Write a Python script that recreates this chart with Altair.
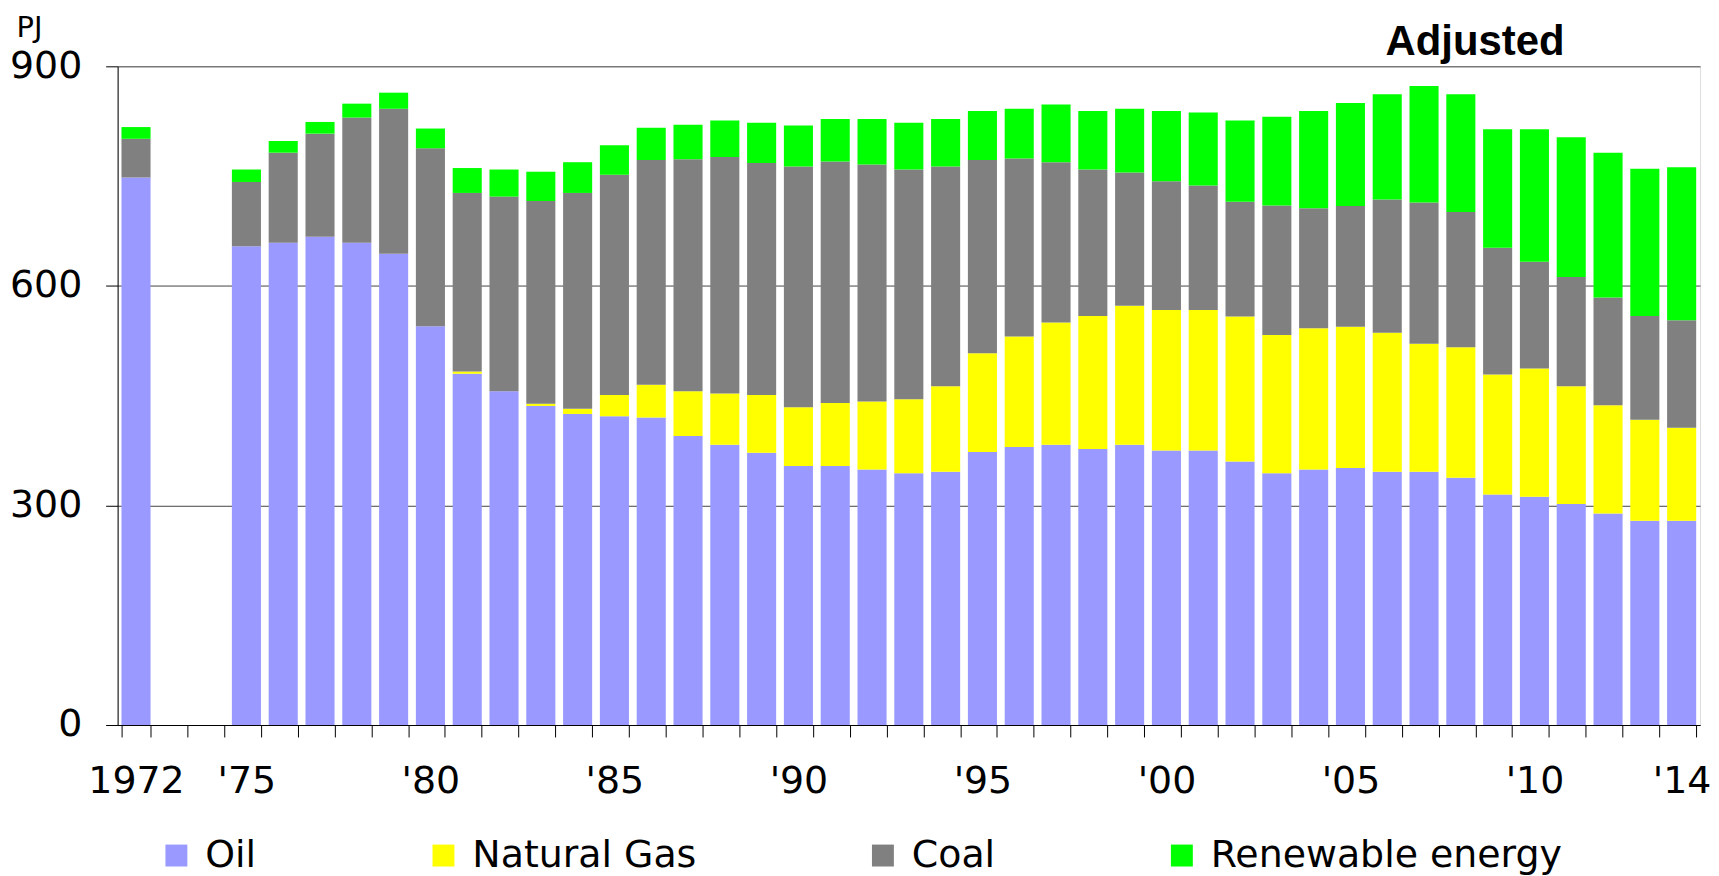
import altair as alt
import pandas as pd

# ---- data (PJ) ----
YEARS = [1972, 1975, 1976, 1977, 1978, 1979, 1980, 1981, 1982, 1983, 1984,
         1985, 1986, 1987, 1988, 1989, 1990, 1991, 1992, 1993, 1994, 1995,
         1996, 1997, 1998, 1999, 2000, 2001, 2002, 2003, 2004, 2005, 2006,
         2007, 2008, 2009, 2010, 2011, 2012, 2013, 2014]

OIL = [748, 654, 659, 667, 659, 644, 545, 480, 456, 436, 425,
       422, 420, 395, 383, 372, 354, 354, 349, 344, 346, 373,
       380, 383, 377, 383, 375, 375, 360, 344, 349, 351, 346,
       346, 338, 315, 312, 302, 289, 279, 279]

GAS = [0, 0, 0, 0, 0, 0, 0, 3, 0, 3, 7,
       29, 45, 61, 70, 79, 80, 86, 93, 101, 117, 135,
       151, 167, 182, 190, 192, 192, 198, 189, 193, 193, 190,
       175, 178, 164, 175, 161, 148, 138, 127]

COAL = [53, 88, 123, 141, 171, 198, 243, 244, 266, 277, 295,
        301, 307, 317, 323, 317, 329, 330, 324, 314, 300, 264,
        243, 219, 200, 182, 176, 170, 157, 177, 164, 165, 182,
        193, 185, 173, 146, 149, 147, 142, 147]

RENEW = [16, 17, 16, 16, 19, 22, 27, 34, 37, 40, 42,
         40, 44, 47, 50, 55, 56, 58, 62, 64, 65, 67,
         68, 79, 80, 87, 96, 100, 111, 121, 133, 141, 144,
         159, 161, 162, 181, 191, 198, 201, 209]

# every category slot on the axis (1973 and 1974 have no data)
AXIS_YEARS = [1972, 1973, 1974, 1975, 1976, 1977, 1978, 1979, 1980, 1981,
              1982, 1983, 1984, 1985, 1986, 1987, 1988, 1989, 1990, 1991,
              1992, 1993, 1994, 1995, 1996, 1997, 1998, 1999, 2000, 2001,
              2002, 2003, 2004, 2005, 2006, 2007, 2008, 2009, 2010, 2011,
              2012, 2013, 2014]

SERIES = ["Oil", "Natural Gas", "Coal", "Renewable energy"]
COLORS = ["#9999FF", "#FFFF00", "#808080", "#00FF00"]
Y_TICKS = [0, 300, 600, 900]

rows = []
for i, yr in enumerate(YEARS):
    for k, (name, vals) in enumerate(zip(SERIES, [OIL, GAS, COAL, RENEW])):
        rows.append({"year": yr, "source": name, "pj": vals[i], "k": k})
df = pd.DataFrame(rows)

FONT = "DejaVu Sans"
FS = 38

label_expr = ("datum.value == 1972 ? '1972' : "
              "((datum.value % 5 == 0 || datum.value == 2014) ? "
              "\"'\" + substring(toString(datum.value), 2, 4) : '')")

bars = alt.Chart(df).mark_bar().encode(
    x=alt.X("year:O",
            scale=alt.Scale(domain=AXIS_YEARS, paddingInner=0.21, paddingOuter=0.105),
            axis=alt.Axis(title=None, labelExpr=label_expr, labelAngle=0,
                          labelOverlap=False, tickBand="extent", tickSize=12,
                          labelPadding=26, labelFontSize=FS, labelFont=FONT,
                          labelColor="black", domainColor="black", tickColor="black",
                          grid=False)),
    y=alt.Y("pj:Q", stack="zero",
            scale=alt.Scale(domain=[0, 900], nice=False),
            axis=alt.Axis(values=Y_TICKS, title="PJ", titleAngle=0, titleAlign="left",
                          titleBaseline="alphabetic", titleX=-102, titleY=-29.5,
                          titleFontSize=29, titleFont=FONT, titleFontWeight="normal",
                          titleColor="black",
                          tickSize=12, labelPadding=24, labelFontSize=FS, labelFont=FONT,
                          labelColor="black", domainColor="black", tickColor="black",
                          grid=True, gridColor="#444444", gridWidth=1)),
    color=alt.Color("source:N",
                    scale=alt.Scale(domain=SERIES, range=COLORS),
                    legend=alt.Legend(title=None, orient="none", legendX=40, legendY=773,
                                      direction="horizontal", columns=4, columnPadding=168,
                                      gridAlign="each", symbolType="square", symbolSize=484,
                                      symbolStrokeWidth=0, labelOffset=10, labelLimit=600,
                                      labelFontSize=FS, labelFont=FONT, labelColor="black",
                                      padding=0)),
    order=alt.Order("k:Q"),
)

adjusted = alt.Chart(pd.DataFrame({"label": ["Adjusted"]})).mark_text(
    align="right", baseline="alphabetic", font="Liberation Sans", fontSize=42,
    fontWeight="bold", color="black"
).encode(
    x=alt.value(1452),
    y=alt.value(-11),
    text="label:N",
)

chart = alt.layer(bars, adjusted).properties(
    width=1588, height=661,
    autosize=alt.AutoSizeParams(type="none"),
    padding={"left": 110, "top": 57, "right": 11, "bottom": 150},
).configure_view(strokeWidth=0).configure(background="white")

chart.save("out.html", embed_options={"renderer": "svg", "actions": False})
